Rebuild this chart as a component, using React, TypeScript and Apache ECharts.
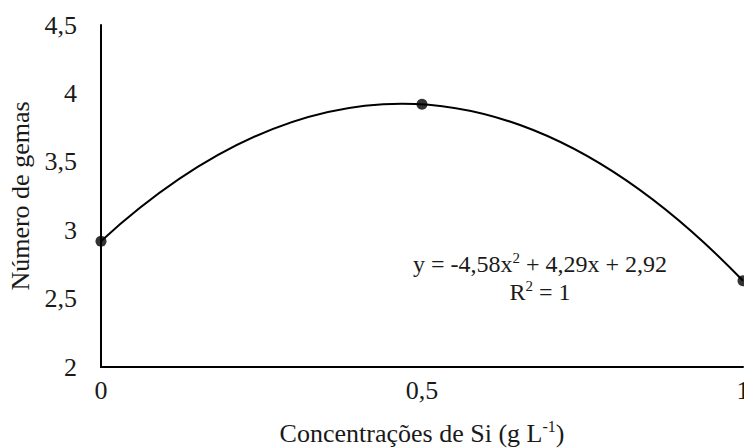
import React, { useEffect, useRef } from "react";
import * as echarts from "echarts";

const xValues = [0, 0.5, 1];
const yValues = [2.92, 3.92, 2.63];
const xTicks = { min: 0, max: 1, interval: 0.5 };
const yTicks = { min: 2, max: 4.5, interval: 0.5 };
const eqLine1 = ["y = -4,58x", "2", " + 4,29x + 2,92"];
const eqLine2 = ["R", "2", " = 1"];
const yName = "Número de gemas";
const xName = ["Concentrações de Si (g L", "-1", ")"];

const FONT = "'Liberation Serif', 'Times New Roman', serif";
const TXT = "#1a1a1a";

export default function App() {
  const ref = useRef<HTMLDivElement>(null);
  useEffect(() => {
    if (!ref.current) return;
    const chart = echarts.init(ref.current, null, { renderer: "svg" });
    const fmt = (v: number) => String(v).replace(".", ",");
    const points = xValues.map((x, i) => [x, yValues[i]]);
    const eqRich = {
      a: { fontSize: 24, fontFamily: FONT, fill: TXT, verticalAlign: "bottom", lineHeight: 26 },
      s: { fontSize: 15, fontFamily: FONT, fill: TXT, verticalAlign: "top", lineHeight: 26 },
    };
    chart.setOption({
      animation: false,
      backgroundColor: "#ffffff",
      textStyle: { fontFamily: FONT },
      grid: { left: 101, right: 1, top: 25, bottom: 81, containLabel: false, outerBoundsMode: "none" },
      xAxis: {
        type: "value",
        min: xTicks.min,
        max: xTicks.max,
        interval: xTicks.interval,
        axisLine: { show: true, onZero: false, lineStyle: { color: "#000", width: 2 } },
        axisTick: { show: false },
        splitLine: { show: false },
        axisLabel: { formatter: fmt, color: TXT, fontSize: 26, fontFamily: FONT, margin: 10 },
        name: `{a|${xName[0]}}{s|${xName[1]}}{a|${xName[2]}}`,
        nameLocation: "middle",
        nameGap: 51,
        nameTextStyle: {
          color: TXT,
          fontFamily: FONT,
          rich: {
            a: { fontSize: 26, fontFamily: FONT, color: TXT, verticalAlign: "bottom", lineHeight: 28 },
            s: { fontSize: 16, fontFamily: FONT, color: TXT, verticalAlign: "top", lineHeight: 28 },
          },
        },
      },
      yAxis: {
        type: "value",
        min: yTicks.min,
        max: yTicks.max,
        interval: yTicks.interval,
        axisLine: { show: true, onZero: false, lineStyle: { color: "#000", width: 2 } },
        axisTick: { show: false },
        splitLine: { show: false },
        axisLabel: { formatter: fmt, color: TXT, fontSize: 26, fontFamily: FONT, margin: 24 },
        name: yName,
        nameLocation: "middle",
        nameGap: 64,
        nameTextStyle: { color: TXT, fontSize: 26, fontFamily: FONT },
      },
      graphic: [
        {
          type: "text",
          x: 540,
          y: 263,
          style: {
            text: `{a|${eqLine1[0]}}{s|${eqLine1[1]}}{a|${eqLine1[2]}}`,
            align: "center",
            verticalAlign: "middle",
            rich: eqRich,
          },
        },
        {
          type: "text",
          x: 540,
          y: 291,
          style: {
            text: `{a|${eqLine2[0]}}{s|${eqLine2[1]}}{a|${eqLine2[2]}}`,
            align: "center",
            verticalAlign: "middle",
            rich: eqRich,
          },
        },
      ],
      series: [
        {
          type: "custom",
          clip: false,
          data: [[xValues[0], yValues[0]]],
          renderItem: (_params: any, api: any) => {
            const p0 = api.coord([xValues[0], yValues[0]]);
            const p2 = api.coord([xValues[2], yValues[2]]);
            const cx = 2 * xValues[1] - (xValues[0] + xValues[2]) / 2;
            const cy = 2 * yValues[1] - (yValues[0] + yValues[2]) / 2;
            const cp = api.coord([cx, cy]);
            return {
              type: "bezierCurve",
              shape: { x1: p0[0], y1: p0[1], x2: p2[0], y2: p2[1], cpx1: cp[0], cpy1: cp[1] },
              style: { stroke: "#000", lineWidth: 2, fill: null },
            };
          },
        },
        {
          type: "scatter",
          data: points,
          symbol: "circle",
          symbolSize: 11,
          clip: false,
          itemStyle: { color: "#000" },
          z: 5,
        },
      ],
    });
    return () => chart.dispose();
  }, []);
  return (
    <div
      ref={ref}
      style={{ position: "absolute", left: 0, top: 0, width: 744, height: 448, background: "#fff" }}
    />
  );
}
